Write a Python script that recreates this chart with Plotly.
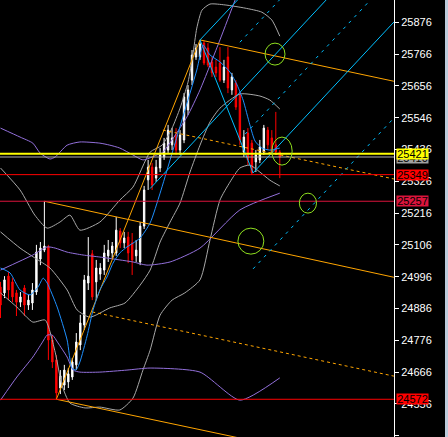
import plotly.graph_objects as go

# ---------------- candles (bar index, prices) ----------------
bar = list(range(71))
opens = [24960, 24940, 24998, 24978, 24940, 24908, 24957, 24898, 24905, 24943,
         25057, 25088, 25099, 24777, 24708, 24611, 24621, 24632, 24649, 24691,
         24760, 24829, 24974, 25075, 24978, 25005, 25019, 25068, 25078, 25078,
         25154, 25113, 25133, 25113, 25068, 25047, 25171, 25331, 25375, 25337,
         25372, 25410, 25434, 25452, 25486, 25434, 25469, 25573, 25676, 25756,
         25756, 25804, 25787, 25739, 25721, 25735, 25676, 25756, 25642, 25666,
         25625, 25427, 25493, 25458, 25393, 25400, 25427, 25503, 25476, 25452,
         25427]
highs = [24978, 24998, 25012, 24991, 24950, 24943, 24967, 24933, 24974, 25106,
         25116, 25257, 25106, 24794, 24725, 24673, 24691, 24680, 24715, 24801,
         24864, 25002, 25133, 25088, 25054, 25043, 25106, 25123, 25116, 25203,
         25164, 25151, 25151, 25147, 25123, 25185, 25310, 25400, 25389, 25400,
         25441, 25476, 25521, 25510, 25510, 25503, 25631, 25659, 25780, 25801,
         25815, 25811, 25804, 25756, 25746, 25790, 25746, 25790, 25701, 25676,
         25635, 25503, 25510, 25469, 25434, 25469, 25521, 25514, 25503, 25566,
         25434]
lows = [24853, 24922, 24915, 24908, 24860, 24891, 24860, 24881, 24881, 24933,
        25036, 25081, 24708, 24680, 24572, 24590, 24604, 24611, 24639, 24673,
        24742, 24812, 24950, 24915, 24915, 24985, 25002, 25047, 25061, 25068,
        25095, 25095, 25043, 25002, 25047, 25036, 25161, 25296, 25296, 25324,
        25358, 25400, 25424, 25434, 25417, 25417, 25458, 25555, 25659, 25746,
        25746, 25728, 25721, 25687, 25687, 25670, 25666, 25631, 25625, 25573,
        25452, 25410, 25382, 25348, 25358, 25389, 25417, 25434, 25417, 25417,
        25337]
closes = [24898, 24985, 24950, 24926, 24908, 24926, 24898, 24915, 24950, 25081,
          25095, 25102, 24777, 24701, 24594, 24653, 24673, 24660, 24701, 24770,
          24836, 24985, 24998, 24926, 25026, 25026, 25078, 25088, 25102, 25157,
          25113, 25130, 25078, 25054, 25088, 25171, 25296, 25375, 25313, 25375,
          25417, 25458, 25503, 25476, 25434, 25486, 25618, 25642, 25763, 25787,
          25801, 25735, 25728, 25701, 25701, 25676, 25721, 25649, 25687, 25583,
          25469, 25479, 25400, 25355, 25417, 25445, 25510, 25452, 25427, 25427,
          25410]

# ---------------- indicator curves (bar index, price) ----------------
ma_x = [0, 2.4, 4.9, 7.4, 9.4, 10.7, 11.7, 14.2, 16.7, 17.9, 18.9, 19.9, 21.7, 23.2,
        24.9, 26.7, 28.2, 29.9, 31.7, 33.2, 35.0, 37.5, 40.0, 42.5, 45.7, 49.2, 50.8,
        52.5, 55.0, 57.5, 59.3, 60.8, 62.5, 63.8, 65.5, 67.5, 70.0]
ma_y = [25026, 25009, 24950, 24933, 24960, 24991, 24974, 24891, 24777, 24680, 24673,
        24701, 24791, 24881, 24950, 24995, 25043, 25078, 25099, 25112, 25130, 25182,
        25285, 25400, 25548, 25711, 25797, 25763, 25739, 25704, 25659, 25607, 25521,
        25465, 25441, 25434, 25441]

bbu_x = [0, 4.9, 8.6, 11.7, 14.9, 17.4, 19.9, 24.9, 29.9, 33.2, 37.5, 40.5, 43.0, 45.0,
         47.0, 48.2, 49.2, 50.5, 52.5, 56.3, 61.3, 65.5, 68.0, 70.0]
bbu_y = [25372, 25296, 25209, 25164, 25185, 25209, 25157, 25185, 25261, 25306, 25427,
         25451, 25510, 25579, 25669, 25763, 25856, 25918, 25939, 25936, 25925, 25911,
         25884, 25828]
bbm_x = [0, 4.9, 8.6, 12.4, 16.7, 19.2, 22.4, 27.4, 31.2, 35.0, 37.5, 40.0, 42.5, 45.0,
         47.5, 50.0, 52.5, 55.0, 60.0, 65.0, 67.5, 70.0]
bbm_y = [25151, 25095, 25061, 25026, 24950, 24881, 24856, 24888, 24905, 24967, 25019,
         25116, 25185, 25251, 25358, 25451, 25531, 25579, 25628, 25621, 25607, 25576]
bbl_x = [0, 4.1, 8.1, 11.2, 13.7, 15.4, 17.4, 21.2, 24.9, 29.9, 33.2, 35.7, 37.5, 40.0,
         43.0, 46.2, 50.0, 52.5, 55.0, 57.5, 60.0, 62.5, 65.0, 67.5, 70.0]
bbl_y = [24940, 24891, 24839, 24846, 24735, 24621, 24559, 24542, 24545, 24535, 24576,
         24673, 24742, 24863, 24915, 24940, 24985, 25123, 25261, 25323, 25372, 25382,
         25358, 25330, 25310]

pu_x = [0, 4.9, 8.1, 9.9, 12.4, 13.7, 16.7, 19.9, 24.9, 27.4, 29.9, 33.2, 35.7, 39.2,
        40.7, 46.7, 50.0, 55.0, 58.8, 61.3]
pu_y = [25510, 25479, 25458, 25424, 25403, 25410, 25451, 25462, 25458, 25451, 25441,
        25417, 25400, 25417, 25427, 25548, 25642, 25815, 25953, 26040]
pm_x = [0, 8.1, 11.7, 13.7, 16.7, 20.7, 24.9, 29.9, 33.2, 36.7, 42.5, 50.0, 60.0, 70]
pm_y = [25019, 25071, 25099, 25095, 25081, 25071, 25064, 25054, 25047, 25036, 25047,
        25095, 25227, 25285]
pl_x = [0, 4.1, 8.1, 10.4, 11.7, 13.0, 14.4, 16.7, 18.2, 19.9, 24.9, 31.7, 37.5, 50.0,
        60.0, 70]
pl_y = [24569, 24649, 24718, 24767, 24794, 24794, 24767, 24718, 24673, 24666, 24666,
        24673, 24680, 24666, 24569, 24646]

# ---------------- drawn objects ----------------
hlines = [25421, 25410, 25349, 25257, 24572]
hcolors = ["#ffff00", "#b0b0b0", "#ff0000", "#dc143c", "#ff0000"]
hwidths = [2, 1, 1, 1, 1]

# orange channel lines: (x0, y0, x1, y1, dash)
orange_lines = [
    (14, 24572, 50, 25815, "solid"),
    (50, 25815, 98.6, 25672, "solid"),
    (11, 25257, 98.6, 24994, "solid"),
    (14, 24572, 98.6, 24325, "solid"),
    (23, 24874, 98.6, 24652, "3px,3px"),
    (40.7, 25503, 98.6, 25334, "3px,3px"),
]
# deep sky blue lines
blue_lines = [
    (50, 25815, 63.3, 25355, "solid"),
    (50, 25815, 59.4, 25953, "solid"),
    (37.5, 25301, 81.6, 25953, "solid"),
    (63.3, 25355, 98.6, 25877, "solid"),
    (60.0, 25807, 69.9, 25953, "3px,5px"),
    (61.3, 25489, 92.7, 25953, "3px,5px"),
    (63.3, 25023, 98.6, 25545, "3px,5px"),
]
# ellipses (x0, x1, y0, y1)
ellipses = [
    (66.3, 71.3, 25804, 25728),
    (68.0, 73.1, 25479, 25382),
    (74.9, 79.2, 25285, 25216),
    (59.5, 66.0, 25164, 25074),
]

price_tags = [(25405, "25410", "#a0a0a0"), (25421, "25421", "#ffff00"),
              (25349, "25349", "#ff0000"), (25257, "25257", "#dc143c"),
              (24572, "24572", "#ff0000")]

tick_vals = [24446, 24556, 24666, 24776, 24886, 24996, 25106, 25216, 25326, 25436,
             25546, 25656, 25766, 25876]

fig = go.Figure()

def curve(x, y, color):
    fig.add_trace(go.Scatter(x=x, y=y, mode="lines", line=dict(color=color, width=1, shape="spline", smoothing=0.6),
                             hoverinfo="skip", showlegend=False))

curve(bbu_x, bbu_y, "#a8a8a8")
curve(bbm_x, bbm_y, "#a8a8a8")
curve(bbl_x, bbl_y, "#a8a8a8")
curve(pu_x, pu_y, "#9370db")
curve(pm_x, pm_y, "#9370db")
curve(pl_x, pl_y, "#9370db")

for (x0, y0, x1, y1, d) in orange_lines:
    fig.add_trace(go.Scatter(x=[x0, x1], y=[y0, y1], mode="lines",
                             line=dict(color="#ffa500", width=1, dash=d), hoverinfo="skip", showlegend=False))
for (x0, y0, x1, y1, d) in blue_lines:
    fig.add_trace(go.Scatter(x=[x0, x1], y=[y0, y1], mode="lines",
                             line=dict(color="#00bfff", width=1, dash=d), hoverinfo="skip", showlegend=False))

for v, c, w in zip(hlines, hcolors, hwidths):
    fig.add_shape(type="line", xref="paper", x0=0, x1=1, y0=v, y1=v, line=dict(color=c, width=w))

fig.add_trace(go.Candlestick(
    x=bar, open=opens, high=highs, low=lows, close=closes,
    increasing=dict(line=dict(color="#ffffff", width=1), fillcolor="#ffffff"),
    decreasing=dict(line=dict(color="#ff0000", width=1), fillcolor="#ff0000"),
    whiskerwidth=0, hoverinfo="skip", showlegend=False))

curve(ma_x, ma_y, "#1e90ff")

for (x0, x1, y0, y1) in ellipses:
    fig.add_shape(type="circle", x0=x0, x1=x1, y0=y0, y1=y1, line=dict(color="#8fe01f", width=1))

for v, t, c in price_tags:
    fig.add_annotation(xref="paper", x=1.006, xanchor="left", y=v, yanchor="middle", text=t,
                       showarrow=False, bgcolor=c, width=31, height=10, borderpad=0,
                       font=dict(family="Liberation Sans", size=11, color="#000000"))

fig.add_shape(type="rect", xref="paper", yref="paper", x0=445 / 394, x1=448 / 394 + 0.01, y0=0, y1=1,
              fillcolor="#bccbdb", line=dict(width=0), layer="above")

fig.update_layout(
    width=448, height=437, margin=dict(l=0, r=54, t=0, b=0, autoexpand=False),
    paper_bgcolor="#000000", plot_bgcolor="#000000", boxgap=0.5,
    showlegend=False,
    xaxis=dict(range=[-0.125, 98.62], visible=False, rangeslider=dict(visible=False), fixedrange=True),
    yaxis=dict(range=[24441.5, 25953.1], side="right", tickvals=tick_vals, automargin=False,
               ticktext=[str(v) for v in tick_vals], showgrid=False, zeroline=False,
               ticks="outside", ticklen=4, tickcolor="#ffffff", showline=True, linecolor="#ffffff",
               linewidth=1, tickfont=dict(family="Liberation Sans", size=11, color="#ffffff")),
)

fig.write_html("out.html", config={"displayModeBar": False},
               post_script="document.body.style.margin='0px';document.body.style.background='#000';document.body.style.overflow='hidden';")
